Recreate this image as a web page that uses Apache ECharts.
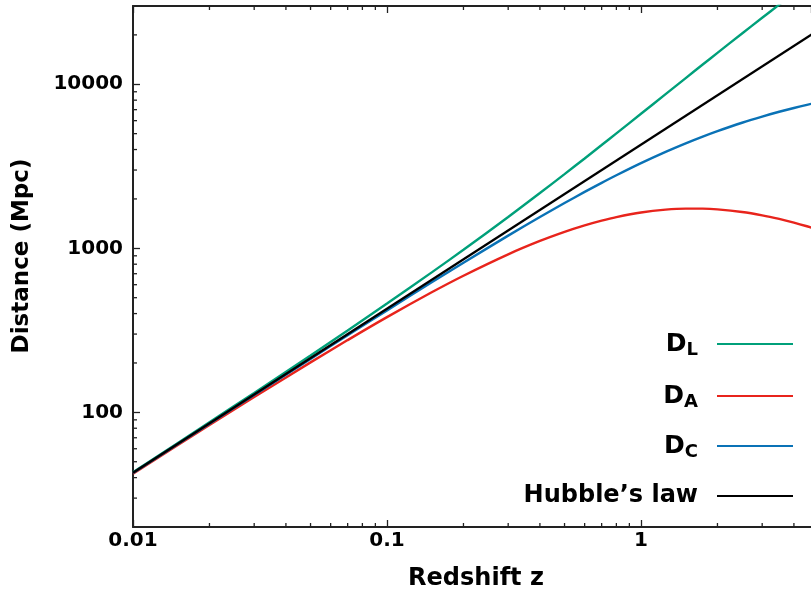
<!DOCTYPE html>
<html>
<head>
<meta charset="utf-8">
<script src="https://cdn.jsdelivr.net/npm/echarts@6/dist/echarts.min.js"></script>
<style>html,body{margin:0;padding:0;background:#fff}#c{width:811px;height:595px}</style>
</head>
<body>
<div id="c"></div>
<script>
// Redshift values
const zVals = [0.01,0.02,0.03,0.05,0.07,0.1,0.15,0.2,0.3,0.4,0.5,0.6,0.7,0.8,1,1.25,1.5,1.75,2,2.5,3,3.5,4,4.5,5];
// Luminosity distance D_L (Mpc)
const dL = [43.16,86.98,131.4,222.3,315.7,460.2,713.2,980.0,1552.7,2172.1,2832.9,3530.2,4259.5,5017.9,6607.6,8708.4,10909.5,13191.5,15539.7,20396.3,25422.8,30582.5,35851.5,41212.6,46651.8];
// Angular diameter distance D_A (Mpc)
const dA = [42.31,83.60,123.9,201.6,275.7,380.4,539.3,680.6,918.8,1108.2,1259.1,1379.0,1473.9,1548.7,1651.9,1720.2,1745.5,1744.3,1726.6,1665.0,1588.9,1510.2,1434.1,1362.4,1295.9];
// Comoving distance D_C (Mpc)
const dC = [42.73,85.27,127.6,211.7,295.0,418.4,620.2,816.7,1194.4,1551.5,1888.6,2206.4,2505.6,2787.7,3303.8,3870.4,4363.8,4796.9,5179.9,5827.5,6355.7,6796.1,7170.3,7493.2,7775.3];
// Hubble's law (straight line)
const hubbleZ = [0.01, 5];
const hubbleD = [42.83, 21413.8];

const seriesNames = ['D_L','D_A','D_C','Hubble\u2019s law'];
const legendLabels = ['{d|D}{s|L}','{d|D}{s|A}','{d|D}{s|C}','{h|Hubble\u2019s law}'];
const colors = ['#00A07A','#E8241C','#0A72B6','#000000'];

const xTickLabels = ['0.01','0.1','1'];
const yTickLabels = ['100','1000','10000'];
const xMinorTicks = [0.02,0.03,0.04,0.05,0.06,0.07,0.08,0.09,0.2,0.3,0.4,0.5,0.6,0.7,0.8,0.9,2,3,4];
const yMinorTicks = [30,40,50,60,70,80,90,200,300,400,500,600,700,800,900,2000,3000,4000,5000,6000,7000,8000,9000,20000];

const X_MIN = 0.01, X_MAX = 4.67, Y_MIN = 20, Y_MAX = 30000;
const FONT = 'DejaVu Sans';

const pair = (xs, ys) => xs.map((x, i) => [x, ys[i]]);
const fmt = v => String(Number(v.toPrecision(6)));

const chart = echarts.init(document.getElementById('c'), null, {renderer: 'canvas'});

const legendTops = [322, 374, 424, 479];
const rich = {
  d: {fontFamily: FONT, fontWeight: 'bold', fontSize: 25, color: '#000', lineHeight: 30},
  s: {fontFamily: FONT, fontWeight: 'bold', fontSize: 18, color: '#000', lineHeight: 30, verticalAlign: 'bottom', padding: [14,0,0,0]},
  h: {fontFamily: FONT, fontWeight: 'bold', fontSize: 24, color: '#000', lineHeight: 30}
};

const lineSeries = [dL, dA, dC].map((arr, i) => ({
  name: seriesNames[i], type: 'line', data: pair(zVals, arr), showSymbol: false, symbol: 'none',
  smooth: 0.3, lineStyle: {color: colors[i], width: 2.4}, itemStyle: {color: colors[i]}, z: 3
}));
lineSeries.push({
  name: seriesNames[3], type: 'line', data: pair(hubbleZ, hubbleD), showSymbol: false, symbol: 'none',
  lineStyle: {color: colors[3], width: 2.4}, itemStyle: {color: colors[3]}, z: 4
});

const tickStyle = {stroke: '#222', lineWidth: 1.3};
const minorX = {
  type: 'custom', silent: true, z: 5,
  data: xMinorTicks.map(v => [v, Y_MIN]),
  renderItem: (params, api) => {
    const v = api.value(0);
    const b = api.coord([v, Y_MIN]);
    const t = api.coord([v, Y_MAX]);
    return {type: 'group', children: [
      {type: 'line', shape: {x1: b[0], y1: b[1], x2: b[0], y2: b[1] - 4}, style: tickStyle},
      {type: 'line', shape: {x1: t[0], y1: t[1], x2: t[0], y2: t[1] + 4}, style: tickStyle}
    ]};
  }
};
const minorY = {
  type: 'custom', silent: true, z: 5,
  data: yMinorTicks.map(v => [X_MIN, v]),
  renderItem: (params, api) => {
    const v = api.value(1);
    const p = api.coord([X_MIN, v]);
    return {type: 'line', shape: {x1: p[0], y1: p[1], x2: p[0] + 4, y2: p[1]}, style: tickStyle};
  }
};

const axisLabelStyle = {fontFamily: FONT, fontWeight: 'bold', fontSize: 20, color: '#000'};

chart.setOption({
  animation: false,
  backgroundColor: '#fff',
  grid: {left: 133, right: 0, top: 6, bottom: 68, containLabel: false},
  xAxis: [{
    type: 'log', logBase: 10, min: X_MIN, max: X_MAX, position: 'bottom',
    axisLine: {show: true, onZero: false, lineStyle: {color: '#222', width: 2}},
    axisTick: {show: true, inside: true, length: 7, lineStyle: {color: '#222', width: 1.3}},
    axisLabel: {show: true, margin: 4, showMaxLabel: false,
      formatter: v => { const s = fmt(v); return xTickLabels.includes(s) ? s : ''; }, ...axisLabelStyle},
    splitLine: {show: false}
  }, {
    type: 'log', logBase: 10, min: X_MIN, max: X_MAX, position: 'top',
    axisLine: {show: true, onZero: false, lineStyle: {color: '#222', width: 2}},
    axisTick: {show: true, inside: true, length: 7, lineStyle: {color: '#222', width: 1.3}},
    axisLabel: {show: false}, splitLine: {show: false}
  }],
  yAxis: [{
    type: 'log', logBase: 10, min: Y_MIN, max: Y_MAX,
    axisLine: {show: true, onZero: false, lineStyle: {color: '#222', width: 2}},
    axisTick: {show: true, inside: true, length: 7, lineStyle: {color: '#222', width: 1.3}},
    axisLabel: {show: true, margin: 10, showMaxLabel: false, showMinLabel: false,
      formatter: v => { const s = fmt(v); return yTickLabels.includes(s) ? s : ''; }, ...axisLabelStyle},
    splitLine: {show: false}
  }],
  legend: seriesNames.map((n, i) => ({
    data: [n], orient: 'vertical', align: 'right', right: 13, top: legendTops[i],
    icon: 'rect', itemWidth: 76, itemHeight: 2, selectedMode: false,
    formatter: () => legendLabels[i],
    textStyle: {rich: rich, padding: [0, 14, 0, 0]}
  })),
  graphic: [
    {type: 'text', x: 22, y: 256, rotation: Math.PI / 2,
      style: {text: 'Distance (Mpc)', font: 'bold 23px "DejaVu Sans"', fill: '#000', align: 'center', verticalAlign: 'middle'}},
    {type: 'text', x: 476, y: 579,
      style: {text: 'Redshift z', font: 'bold 24px "DejaVu Sans"', fill: '#000', align: 'center', verticalAlign: 'middle'}}
  ],
  series: [...lineSeries, minorX, minorY]
});
</script>
</body>
</html>
